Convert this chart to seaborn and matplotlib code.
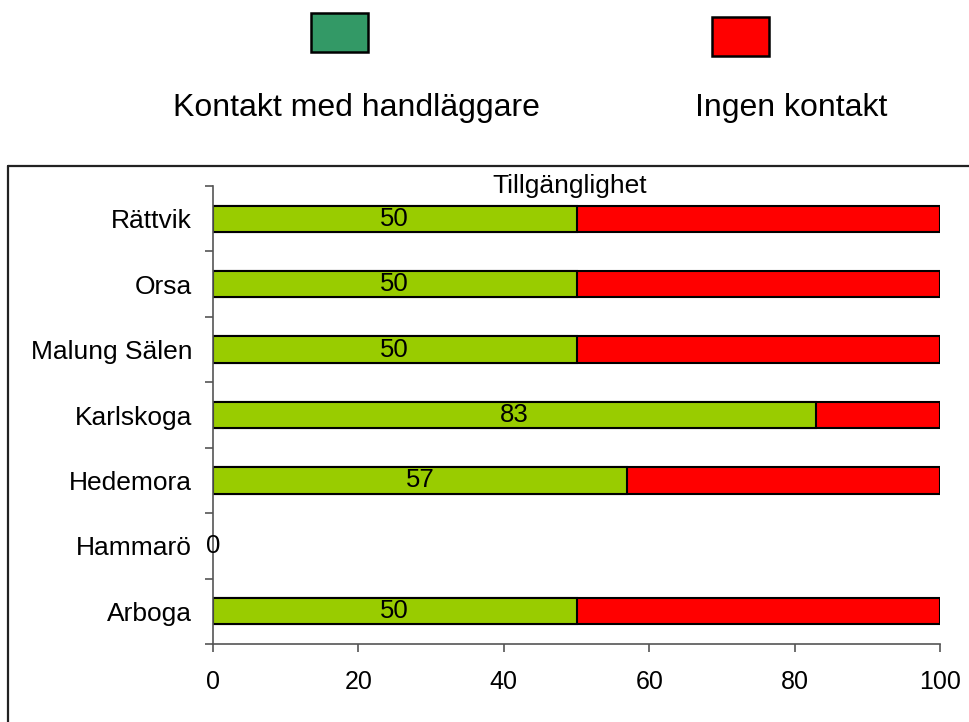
import matplotlib
matplotlib.use("Agg")
import matplotlib.pyplot as plt
from matplotlib.patches import Rectangle
from matplotlib.lines import Line2D
import seaborn as sns
import pandas as pd
import numpy as np

# Data
kommuner = ["Rättvik", "Orsa", "Malung Sälen", "Karlskoga", "Hedemora", "Hammarö", "Arboga"]
kontakt = [50, 50, 50, 83, 57, 0, 50]
ingen_kontakt = [50, 50, 50, 17, 43, 0, 50]
serie_namn = ["Kontakt med handläggare", "Ingen kontakt"]
titel = "Tillgänglighet"
x_ticks = [0, 20, 40, 60, 80, 100]

GREEN_BAR = "#99CC00"
GREEN_LEG = "#339966"
RED = "#FF0000"

sns.set_theme(style="white")
plt.rcParams["font.family"] = ["Liberation Sans", "DejaVu Sans"]

W, H = 969, 722
fig = plt.figure(figsize=(W / 100, H / 100), dpi=100)

def fx(px):
    return px / W

def fy(py):
    return 1 - py / H

ax = fig.add_axes([fx(213), fy(644), fx(940) - fx(213), fy(186) - fy(644)])

df = pd.DataFrame({
    "kommun": kommuner,
    "kontakt": kontakt,
    "total": np.array(kontakt) + np.array(ingen_kontakt),
})

# stacked bars: total (red) underneath, contact share (green) on top
sns.barplot(data=df, y="kommun", x="total", color=RED, width=0.4,
            edgecolor="black", linewidth=1.5, saturation=1, ax=ax, orient="h")
sns.barplot(data=df, y="kommun", x="kontakt", color=GREEN_BAR, width=0.4,
            edgecolor="black", linewidth=1.5, saturation=1, ax=ax, orient="h")

for p in ax.patches:
    if p.get_width() == 0:
        p.set_linewidth(0)

# value labels centred on the green segment
for i, v in enumerate(kontakt):
    ax.text(v / 2, i, f"{v}", ha="center", va="center", fontsize=18.5, color="black")

ax.set_xlim(0, 100)
ax.set_ylim(len(kommuner) - 0.5, -0.5)
ax.set_xlabel("")
ax.set_ylabel("")
ax.set_xticks(x_ticks)
ax.set_xticklabels([str(t) for t in x_ticks])

ax.set_yticks(range(len(kommuner)))
ax.set_yticklabels(kommuner)
ax.set_yticks(np.arange(-0.5, len(kommuner) + 0.5, 1), minor=True)

ax.tick_params(axis="y", which="major", length=0, pad=15, labelsize=19, colors="black")
ax.tick_params(axis="y", which="minor", length=6, width=1.2, color="#555555", left=True)
ax.tick_params(axis="x", which="major", length=6, width=1.2, color="#555555",
               pad=13, labelsize=18, labelcolor="black", bottom=True)

for s in ["top", "right"]:
    ax.spines[s].set_visible(False)
for s in ["left", "bottom"]:
    ax.spines[s].set_color("#555555")
    ax.spines[s].set_linewidth(1.2)

ax.text(0.49, 1.0, titel, transform=ax.transAxes, ha="center", va="center",
        fontsize=19, color="black")

# legend drawn above the plot frame
fig.add_artist(Rectangle((fx(311), fy(52)), fx(368) - fx(311), fy(13) - fy(52),
                         facecolor=GREEN_LEG, edgecolor="black", linewidth=1.8,
                         transform=fig.transFigure))
fig.add_artist(Rectangle((fx(712), fy(56)), fx(769) - fx(712), fy(17) - fy(56),
                         facecolor=RED, edgecolor="black", linewidth=1.8,
                         transform=fig.transFigure))
fig.text(fx(356), fy(108), serie_namn[0], ha="center", va="center", fontsize=23, color="black")
fig.text(fx(791), fy(108), serie_namn[1], ha="center", va="center", fontsize=23, color="black")

# outer plot frame (left and top edges)
fig.add_artist(Line2D([fx(8), fx(8)], [fy(166), 0], color="#222222", linewidth=1.6,
                      transform=fig.transFigure))
fig.add_artist(Line2D([fx(8), 1], [fy(166), fy(166)], color="#222222", linewidth=1.6,
                      transform=fig.transFigure))

fig.savefig("out.png", dpi=100, facecolor="white")
